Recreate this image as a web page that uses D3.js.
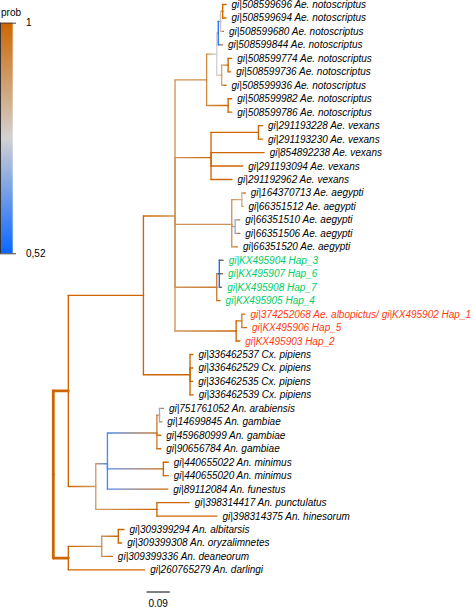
<!DOCTYPE html>
<html><head><meta charset="utf-8">
<script src="https://cdn.jsdelivr.net/npm/d3@7"></script>
<style>
html,body{margin:0;padding:0;background:#fff;}
svg{display:block;}
text{font-family:"Liberation Sans", Arial, sans-serif;}
</style></head><body>
<svg id="chart" width="473" height="607"></svg>
<script>
// ---- tree data (one entry per node, preorder) ----
const nodeIds = [
  "root","A","C","P","B","G","I","L","K","t1","t2","t3","t4","J","J2","t5","t6","t7","H","t8","t9",
  "N","M","t10","t11","t12","t13","t14",
  "R","O","t15","t16","Q","t17","t18","t19",
  "S","T","t20","t21","t22","t23",
  "V","U","t24","t25","t26",
  "W","t27","t28","t29","t30",
  "X","Y","AA","AC","t31","t32","t33","t34","AB","t35","t36","t37","Z","t38","t39",
  "D","E","F","t40","t41","t42","t43"];
const parentIds = [
  "","root","A","C","P","B","G","I","L","K","K","L","I","G","J","J2","J2","J","B","H","H",
  "P","N","M","M","N","N","N",
  "P","R","O","O","R","Q","Q","R",
  "P","S","T","T","T","S",
  "P","V","U","U","V",
  "C","W","W","W","W",
  "A","X","Y","AA","AC","AC","AA","AA","Y","AB","AB","Y","X","Z","Z",
  "root","D","E","F","F","E","D"];
const branchLengths = [
  0,0.058,0.290,0.122,0.122,0.039,0.006,0.009,0.008,0.013,0.013,0.011,0.016,0.019,0.025,0.014,0.010,0.017,0.083,0.014,0.014,
  0.139,0.183,0.016,0.016,0.205,0.122,0.081,
  0.219,0.039,0.013,0.004,0.013,0.018,0.018,0.022,
  0.161,0.010,0.015,0.012,0.009,0.013,
  0.236,0.022,0.012,0.018,0.014,
  0.180,0.011,0.011,0.010,0.012,
  0.106,0.045,0.191,0.010,0.015,0.009,0.015,0.015,0.216,0.019,0.019,0.233,0.236,0.125,0.232,
  0.058,0.129,0.064,0.022,0.013,0.041,0.295];
const nodeProbs = [
  1,1,1,0.90,0.92,0.76,0.55,0.80,1,1,1,1,1,0.86,1,1,1,1,1,1,1,
  1,1,1,1,1,1,1,
  0.90,0.84,1,1,0.68,1,1,1,
  0.95,0.53,1,1,1,1,
  1,0.95,1,1,1,
  1,1,1,1,1,
  0.88,0.60,0.95,0.68,1,1,1,1,1,1,1,1,1,1,1,
  1,0.90,1,1,1,1,1];

// ---- tips (top to bottom) ----
const tipIds = ["t1","t2","t3","t4","t5","t6","t7","t8","t9","t10","t11","t12","t13","t14","t15","t16","t17","t18","t19","t20",
  "t21","t22","t23","t24","t25","t26","t27","t28","t29","t30","t31","t32","t33","t34","t35","t36","t37","t38","t39","t40","t41","t42","t43"];
const tipLabels = [
  "gi|508599696 Ae. notoscriptus","gi|508599694 Ae. notoscriptus","gi|508599680 Ae. notoscriptus","gi|508599844 Ae. notoscriptus",
  "gi|508599774 Ae. notoscriptus","gi|508599736 Ae. notoscriptus","gi|508599936 Ae. notoscriptus","gi|508599982 Ae. notoscriptus",
  "gi|508599786 Ae. notoscriptus",
  "gi|291193228 Ae. vexans","gi|291193230 Ae. vexans","gi|854892238 Ae. vexans","gi|291193094 Ae. vexans","gi|291192962 Ae. vexans",
  "gi|164370713 Ae. aegypti","gi|66351512 Ae. aegypti","gi|66351510 Ae. aegypti","gi|66351506 Ae. aegypti","gi|66351520 Ae. aegypti",
  "gi|KX495904 Hap_3","gi|KX495907 Hap_6","gi|KX495908 Hap_7","gi|KX495905 Hap_4",
  "gi|374252068 Ae. albopictus/ gi|KX495902 Hap_1","gi|KX495906 Hap_5","gi|KX495903 Hap_2",
  "gi|336462537 Cx. pipiens","gi|336462529 Cx. pipiens","gi|336462535 Cx. pipiens","gi|336462539 Cx. pipiens",
  "gi|751761052 An. arabiensis","gi|14699845 An. gambiae","gi|459680999 An. gambiae","gi|90656784 An. gambiae",
  "gi|440655022 An. minimus","gi|440655020 An. minimus","gi|89112084 An. funestus",
  "gi|398314417 An. punctulatus","gi|398314375 An. hinesorum",
  "gi|309399294 An. albitarsis","gi|309399308 An. oryzalimnetes","gi|309399336 An. deaneorum","gi|260765279 An. darlingi"];
const tipGroups = [
  "ref","ref","ref","ref","ref","ref","ref","ref","ref",
  "ref","ref","ref","ref","ref",
  "ref","ref","ref","ref","ref",
  "hapA","hapA","hapA","hapA",
  "hapB","hapB","hapB",
  "ref","ref","ref","ref",
  "ref","ref","ref","ref","ref","ref","ref","ref","ref",
  "ref","ref","ref","ref"];

// ---- legend / scale bar ----
const probDomain = [0.52, 1];
const legendTicks = [0.52, 1];
const legendTickLabels = ["0,52", "1"];
const scaleBarStart = 0.36;
const scaleBarLength = 0.09;
const scaleBarLabel = "0.09";

// ---- build ----
const svg = d3.select("#chart");
const defs = svg.append("defs");

const table = nodeIds.map((id, i) => ({id, parentId: parentIds[i] || null, length: branchLengths[i], prob: nodeProbs[i]}));
const root = d3.stratify().id(d => d.id).parentId(d => d.parentId)(table);
root.eachBefore(n => { n.dist = n.parent ? n.parent.dist + n.data.length : 0; });

const yScale = d3.scaleLinear().domain([0, tipIds.length - 1]).range([4.5, 569.9]);
root.eachAfter(n => {
  n.py = n.children ? d3.mean(n.children, c => c.py) : yScale(tipIds.indexOf(n.id));
});
const xScale = d3.scaleLinear().domain([0, 1]).range([53.3, 312.3]);

const color = d3.scaleLinear()
  .domain([probDomain[0], (probDomain[0] + probDomain[1]) / 2, probDomain[1]])
  .range(["#0a66ff", "#d2d2d2", "#cd6600"])
  .interpolate(d3.interpolateRgb);
const groupColor = d3.scaleOrdinal().domain(["ref","hapA","hapB"]).range(["#000000","#00cd66","#ff3a10"]);

const edges = root.descendants().filter(n => n.parent);
edges.forEach((n, i) => {
  const g = defs.append("linearGradient").attr("id", "eg" + i)
    .attr("gradientUnits", "userSpaceOnUse")
    .attr("x1", xScale(n.parent.dist)).attr("x2", xScale(n.dist) + 0.01)
    .attr("y1", 0).attr("y2", 0);
  g.append("stop").attr("offset", 0).attr("stop-color", color(n.parent.data.prob));
  g.append("stop").attr("offset", 1).attr("stop-color", color(n.data.prob));
  n.gid = "eg" + i;
});
const lw = n => n.parent === root ? 2.8 : 1.35;

const gTree = svg.append("g").attr("fill", "none").attr("stroke-linecap", "round");
gTree.selectAll("line.h").data(edges).join("line").attr("class", "h")
  .attr("x1", n => xScale(n.parent.dist)).attr("x2", n => xScale(n.dist))
  .attr("y1", n => n.py).attr("y2", n => n.py)
  .attr("stroke", n => `url(#${n.gid})`).attr("stroke-width", lw);
gTree.selectAll("line.v").data(edges).join("line").attr("class", "v")
  .attr("x1", n => xScale(n.parent.dist)).attr("x2", n => xScale(n.parent.dist))
  .attr("y1", n => n.parent.py).attr("y2", n => n.py)
  .attr("stroke", n => color(n.parent.data.prob)).attr("stroke-width", lw);

// tip labels
svg.append("g").selectAll("text").data(root.leaves()).join("text")
  .attr("x", n => xScale(n.dist) + 5.5)
  .attr("y", n => n.py).attr("dy", "0.35em")
  .attr("font-size", 10).attr("font-style", "italic")
  .attr("fill", n => groupColor(tipGroups[tipIds.indexOf(n.id)]))
  .text(n => tipLabels[tipIds.indexOf(n.id)]);

// scale bar
const sb = svg.append("g");
sb.append("line").attr("x1", xScale(scaleBarStart)).attr("x2", xScale(scaleBarStart + scaleBarLength))
  .attr("y1", 592).attr("y2", 592).attr("stroke", "#000").attr("stroke-width", 1);
sb.append("text").attr("x", xScale(scaleBarStart + scaleBarLength / 2)).attr("y", 603)
  .attr("dy", "0.35em").attr("text-anchor", "middle").attr("font-size", 10).text(scaleBarLabel);

// legend
const legendY = d3.scaleLinear().domain(probDomain).range([253.3, 22.7]);
const lg = defs.append("linearGradient").attr("id", "legendGrad").attr("x1", 0).attr("y1", 0).attr("x2", 0).attr("y2", 1);
d3.range(0, 1.0001, 0.05).forEach(t => {
  lg.append("stop").attr("offset", t).attr("stop-color", color(probDomain[1] - t * (probDomain[1] - probDomain[0])));
});
const leg = svg.append("g");
leg.append("text").attr("x", 1).attr("y", 12).attr("dy", "0.35em").attr("font-size", 10).text("prob");
leg.append("rect").attr("x", 0).attr("y", legendY(probDomain[1])).attr("width", 12.7)
  .attr("height", legendY(probDomain[0]) - legendY(probDomain[1])).attr("fill", "url(#legendGrad)");
leg.append("line").attr("x1", 0.5).attr("x2", 0.5).attr("y1", legendY(probDomain[1])).attr("y2", legendY(probDomain[0]))
  .attr("stroke", "#333").attr("stroke-width", 1);
const axisG = leg.append("g").call(
  d3.axisRight(legendY).tickValues(legendTicks).tickFormat((d, i) => legendTickLabels[i]).tickSize(16).tickPadding(10));
axisG.select(".domain").remove();
axisG.selectAll(".tick line").attr("stroke", "#444");
axisG.selectAll(".tick text").attr("font-size", 10).attr("font-family", "Liberation Sans, Arial, sans-serif").attr("fill", "#000");
</script>
</body></html>
